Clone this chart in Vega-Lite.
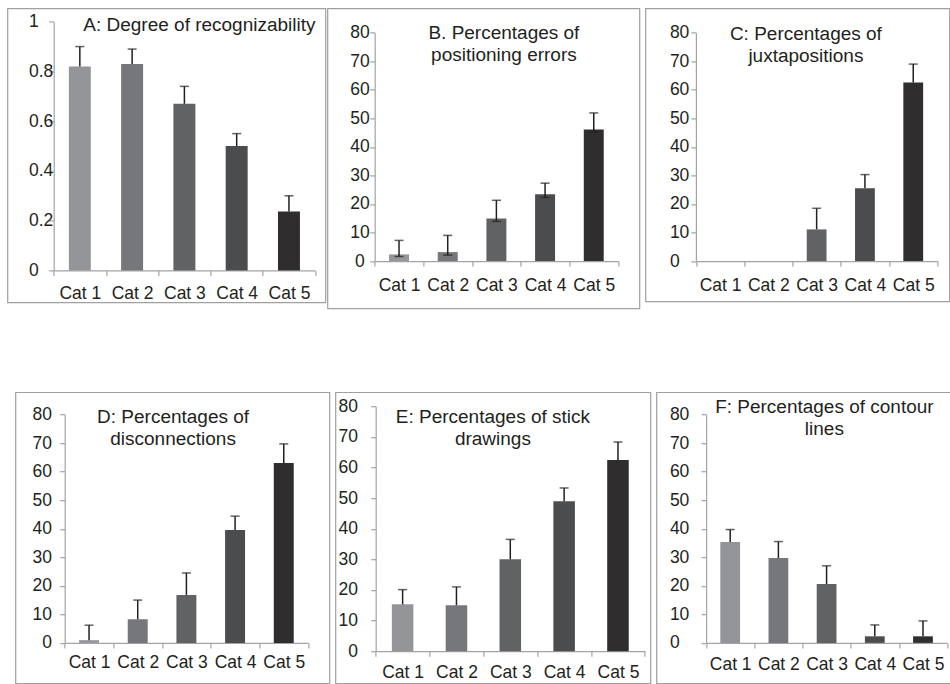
{
  "$schema": "https://vega.github.io/schema/vega-lite/v6.json",
  "padding": {"left": 6.4, "top": 7.4, "right": 0, "bottom": 0},
  "background": "white",
  "datasets": {
    "d": [
      {"panel": "A", "cat": "Cat 1", "value": 0.82, "lo": 0.82, "hi": 0.90},
      {"panel": "A", "cat": "Cat 2", "value": 0.83, "lo": 0.83, "hi": 0.89},
      {"panel": "A", "cat": "Cat 3", "value": 0.67, "lo": 0.67, "hi": 0.74},
      {"panel": "A", "cat": "Cat 4", "value": 0.50, "lo": 0.50, "hi": 0.55},
      {"panel": "A", "cat": "Cat 5", "value": 0.237, "lo": 0.237, "hi": 0.30},
      {"panel": "B", "cat": "Cat 1", "value": 2.35, "lo": 1.6, "hi": 7.25},
      {"panel": "B", "cat": "Cat 2", "value": 3.15, "lo": 2.1, "hi": 9.0},
      {"panel": "B", "cat": "Cat 3", "value": 14.95, "lo": 13.9, "hi": 21.3},
      {"panel": "B", "cat": "Cat 4", "value": 23.4, "lo": 22.3, "hi": 27.3},
      {"panel": "B", "cat": "Cat 5", "value": 46.1, "lo": 45.2, "hi": 51.9},
      {"panel": "C", "cat": "Cat 3", "value": 11.1, "lo": 11.1, "hi": 18.5},
      {"panel": "C", "cat": "Cat 4", "value": 25.5, "lo": 25.5, "hi": 30.3},
      {"panel": "C", "cat": "Cat 5", "value": 62.6, "lo": 62.6, "hi": 69.0},
      {"panel": "D", "cat": "Cat 1", "value": 0.95, "lo": 0.95, "hi": 6.2},
      {"panel": "D", "cat": "Cat 2", "value": 8.3, "lo": 8.3, "hi": 15.0},
      {"panel": "D", "cat": "Cat 3", "value": 16.8, "lo": 16.8, "hi": 24.5},
      {"panel": "D", "cat": "Cat 4", "value": 39.5, "lo": 39.5, "hi": 44.4},
      {"panel": "D", "cat": "Cat 5", "value": 63.0, "lo": 63.0, "hi": 69.7},
      {"panel": "E", "cat": "Cat 1", "value": 15.3, "lo": 15.3, "hi": 20.1},
      {"panel": "E", "cat": "Cat 2", "value": 15.0, "lo": 15.0, "hi": 21.0},
      {"panel": "E", "cat": "Cat 3", "value": 30.0, "lo": 30.0, "hi": 36.5},
      {"panel": "E", "cat": "Cat 4", "value": 49.0, "lo": 49.0, "hi": 53.3},
      {"panel": "E", "cat": "Cat 5", "value": 62.4, "lo": 62.4, "hi": 68.3},
      {"panel": "F", "cat": "Cat 1", "value": 35.3, "lo": 35.3, "hi": 39.7},
      {"panel": "F", "cat": "Cat 2", "value": 29.7, "lo": 29.7, "hi": 35.5},
      {"panel": "F", "cat": "Cat 3", "value": 20.6, "lo": 20.6, "hi": 27.0},
      {"panel": "F", "cat": "Cat 4", "value": 2.3, "lo": 2.3, "hi": 6.3},
      {"panel": "F", "cat": "Cat 5", "value": 2.3, "lo": 2.3, "hi": 7.7}
    ]
  },
  "data": {"name": "d"},
  "vconcat": [
    {
      "spacing": 0,
      "hconcat": [
        {
          "width": 318, "height": 294,
          "title": {"text": "A: Degree of recognizability", "offset": -26.8, "dx": 33},
          "transform": [{"filter": "datum.panel == 'A'"}],
          "encoding": {
            "x": {"field": "cat", "type": "nominal", "title": null,
              "scale": {"domain": ["Cat 1", "Cat 2", "Cat 3", "Cat 4", "Cat 5"], "range": [46.3, 307.7], "paddingInner": 0, "paddingOuter": 0},
              "axis": {"offset": -32, "labelPadding": 18}},
            "y": {"field": "value", "type": "quantitative", "title": null,
              "scale": {"domain": [0, 1], "range": [262, 13.3], "nice": false, "zero": true},
              "axis": {"offset": -46.3, "values": [0, 0.2, 0.4, 0.6, 0.8, 1], "format": "~g", "labelAlign": "left", "labelPadding": 20.3}}
          },
          "layer": [
            {"mark": {"type": "bar", "width": {"band": 0.42}},
             "encoding": {"color": {"field": "cat", "type": "nominal", "legend": null,
               "scale": {"domain": ["Cat 1", "Cat 2", "Cat 3", "Cat 4", "Cat 5"], "range": ["#939598", "#76777a", "#616264", "#4b4c4e", "#2f2d2e"]}}}},
            {"mark": {"type": "rule", "color": "#231f20", "strokeWidth": 1.5},
             "encoding": {"y": {"field": "lo", "type": "quantitative", "title": null}, "y2": {"field": "hi"}}},
            {"mark": {"type": "tick", "color": "#231f20", "thickness": 1.5, "size": 9},
             "encoding": {"y": {"field": "hi", "type": "quantitative", "title": null}}}
          ]
        },
        {
          "spacing": 4,
          "hconcat": [
            {
              "width": 312, "height": 300,
              "title": {"text": ["B. Percentages of", "positioning errors"], "offset": -56.5, "dx": 20.5},
              "transform": [{"filter": "datum.panel == 'B'"}],
              "encoding": {
                "x": {"field": "cat", "type": "nominal", "title": null,
                  "scale": {"domain": ["Cat 1", "Cat 2", "Cat 3", "Cat 4", "Cat 5"], "range": [47.3, 290.7], "paddingInner": 0, "paddingOuter": 0},
                  "axis": {"offset": -47.3, "labelPadding": 19.3}},
                "y": {"field": "value", "type": "quantitative", "title": null,
                  "scale": {"domain": [0, 80], "range": [252.7, 24.3], "nice": false, "zero": true},
                  "axis": {"offset": -47.3, "values": [0, 10, 20, 30, 40, 50, 60, 70, 80], "labelAlign": "center", "labelPadding": 10.3}}
              },
              "layer": [
                {"mark": {"type": "bar", "width": {"band": 0.41}},
                 "encoding": {"color": {"field": "cat", "type": "nominal", "legend": null,
                   "scale": {"domain": ["Cat 1", "Cat 2", "Cat 3", "Cat 4", "Cat 5"], "range": ["#939598", "#76777a", "#616264", "#4b4c4e", "#2f2d2e"]}}}},
                {"mark": {"type": "rule", "color": "#231f20", "strokeWidth": 1.5},
                 "encoding": {"y": {"field": "lo", "type": "quantitative", "title": null}, "y2": {"field": "hi"}}},
                {"mark": {"type": "tick", "color": "#231f20", "thickness": 1.5, "size": 9},
                 "encoding": {"y": {"field": "hi", "type": "quantitative", "title": null}}},
                {"mark": {"type": "tick", "color": "#231f20", "thickness": 1.5, "size": 9},
                 "encoding": {"y": {"field": "lo", "type": "quantitative", "title": null}}}
              ]
            },
            {
              "width": 304, "height": 293,
              "title": {"text": ["C: Percentages of", "juxtapositions"], "offset": -57.2, "dx": 8.5},
              "transform": [{"filter": "datum.panel == 'C'"}],
              "encoding": {
                "x": {"field": "cat", "type": "nominal", "title": null,
                  "scale": {"domain": ["Cat 1", "Cat 2", "Cat 3", "Cat 4", "Cat 5"], "range": [50.5, 292], "paddingInner": 0, "paddingOuter": 0},
                  "axis": {"offset": -40.3, "labelPadding": 19.3}},
                "y": {"field": "value", "type": "quantitative", "title": null,
                  "scale": {"domain": [0, 80], "range": [252.7, 24.3], "nice": false, "zero": true},
                  "axis": {"offset": -50.5, "values": [0, 10, 20, 30, 40, 50, 60, 70, 80], "labelAlign": "left", "labelPadding": 21.5}}
              },
              "layer": [
                {"mark": {"type": "bar", "width": {"band": 0.41}},
                 "encoding": {"color": {"field": "cat", "type": "nominal", "legend": null,
                   "scale": {"domain": ["Cat 1", "Cat 2", "Cat 3", "Cat 4", "Cat 5"], "range": ["#939598", "#76777a", "#616264", "#4b4c4e", "#2f2d2e"]}}}},
                {"mark": {"type": "rule", "color": "#231f20", "strokeWidth": 1.5},
                 "encoding": {"y": {"field": "lo", "type": "quantitative", "title": null}, "y2": {"field": "hi"}}},
                {"mark": {"type": "tick", "color": "#231f20", "thickness": 1.5, "size": 9},
                 "encoding": {"y": {"field": "hi", "type": "quantitative", "title": null}}}
              ]
            }
          ]
        }
      ]
    },
    {
      "spacing": 4,
      "hconcat": [
        {
          "width": 3, "height": 291,
          "data": {"values": [{"a": 1}]},
          "view": {"stroke": null, "fill": "#ffffff"},
          "mark": {"type": "point", "opacity": 0, "size": 0},
          "encoding": {}
        },
        {
          "width": 314, "height": 291,
          "title": {"text": ["D: Percentages of", "disconnections"], "offset": -56.8, "dx": 0.7},
          "transform": [{"filter": "datum.panel == 'D'"}],
          "encoding": {
            "x": {"field": "cat", "type": "nominal", "title": null,
              "scale": {"domain": ["Cat 1", "Cat 2", "Cat 3", "Cat 4", "Cat 5"], "range": [49.3, 292.7], "paddingInner": 0, "paddingOuter": 0},
              "axis": {"offset": -40.3, "labelPadding": 15}},
            "y": {"field": "value", "type": "quantitative", "title": null,
              "scale": {"domain": [0, 80], "range": [250.7, 22.3], "nice": false, "zero": true},
              "axis": {"offset": -49.3, "values": [0, 10, 20, 30, 40, 50, 60, 70, 80], "labelPadding": 8.3}}
          },
          "layer": [
            {"mark": {"type": "bar", "width": {"band": 0.41}},
             "encoding": {"color": {"field": "cat", "type": "nominal", "legend": null,
               "scale": {"domain": ["Cat 1", "Cat 2", "Cat 3", "Cat 4", "Cat 5"], "range": ["#939598", "#76777a", "#616264", "#4b4c4e", "#2f2d2e"]}}}},
            {"mark": {"type": "rule", "color": "#231f20", "strokeWidth": 1.5},
             "encoding": {"y": {"field": "lo", "type": "quantitative", "title": null}, "y2": {"field": "hi"}}},
            {"mark": {"type": "tick", "color": "#231f20", "thickness": 1.5, "size": 9},
             "encoding": {"y": {"field": "hi", "type": "quantitative", "title": null}}}
          ]
        },
        {
          "width": 315, "height": 291,
          "title": {"text": ["E: Percentages of stick", "drawings"], "offset": -56.8, "dx": 0},
          "transform": [{"filter": "datum.panel == 'E'"}],
          "encoding": {
            "x": {"field": "cat", "type": "nominal", "title": null,
              "scale": {"domain": ["Cat 1", "Cat 2", "Cat 3", "Cat 4", "Cat 5"], "range": [40.3, 309.5], "paddingInner": 0, "paddingOuter": 0},
              "axis": {"offset": -32, "labelPadding": 16.7}},
            "y": {"field": "value", "type": "quantitative", "title": null,
              "scale": {"domain": [0, 80], "range": [259, 14], "nice": false, "zero": true},
              "axis": {"offset": -40.3, "values": [0, 10, 20, 30, 40, 50, 60, 70, 80], "labelPadding": 13.3}}
          },
          "layer": [
            {"mark": {"type": "bar", "width": {"band": 0.4}},
             "encoding": {"color": {"field": "cat", "type": "nominal", "legend": null,
               "scale": {"domain": ["Cat 1", "Cat 2", "Cat 3", "Cat 4", "Cat 5"], "range": ["#939598", "#76777a", "#616264", "#4b4c4e", "#2f2d2e"]}}}},
            {"mark": {"type": "rule", "color": "#231f20", "strokeWidth": 1.5},
             "encoding": {"y": {"field": "lo", "type": "quantitative", "title": null}, "y2": {"field": "hi"}}},
            {"mark": {"type": "tick", "color": "#231f20", "thickness": 1.5, "size": 9},
             "encoding": {"y": {"field": "hi", "type": "quantitative", "title": null}}}
          ]
        },
        {
          "width": 294, "height": 291,
          "title": {"text": ["F: Percentages of contour", "lines"], "offset": -46.8, "dx": 21},
          "transform": [{"filter": "datum.panel == 'F'"}],
          "encoding": {
            "x": {"field": "cat", "type": "nominal", "title": null,
              "scale": {"domain": ["Cat 1", "Cat 2", "Cat 3", "Cat 4", "Cat 5"], "range": [49.7, 290.7], "paddingInner": 0, "paddingOuter": 0},
              "axis": {"offset": -40.3, "labelPadding": 16.6}},
            "y": {"field": "value", "type": "quantitative", "title": null,
              "scale": {"domain": [0, 80], "range": [250.7, 22.3], "nice": false, "zero": true},
              "axis": {"offset": -49.7, "values": [0, 10, 20, 30, 40, 50, 60, 70, 80], "labelAlign": "left", "labelPadding": 31.7}}
          },
          "layer": [
            {"mark": {"type": "bar", "width": {"band": 0.41}},
             "encoding": {"color": {"field": "cat", "type": "nominal", "legend": null,
               "scale": {"domain": ["Cat 1", "Cat 2", "Cat 3", "Cat 4", "Cat 5"], "range": ["#939598", "#76777a", "#616264", "#4b4c4e", "#2f2d2e"]}}}},
            {"mark": {"type": "rule", "color": "#231f20", "strokeWidth": 1.5},
             "encoding": {"y": {"field": "lo", "type": "quantitative", "title": null}, "y2": {"field": "hi"}}},
            {"mark": {"type": "tick", "color": "#231f20", "thickness": 1.5, "size": 9},
             "encoding": {"y": {"field": "hi", "type": "quantitative", "title": null}}}
          ]
        }
      ]
    }
  ],
  "spacing": 81.8,
  "config": {
    "view": {"stroke": "#a0a0a0", "strokeWidth": 1.2},
    "title": {"font": "Liberation Sans", "fontSize": 19, "fontWeight": "normal", "color": "#231f20", "anchor": "middle", "frame": "group", "baseline": "alphabetic", "lineHeight": 22},
    "axis": {"domainColor": "#a3a3a3", "tickColor": "#a3a3a3", "domainWidth": 1.2, "tickWidth": 1.2, "tickSize": 5, "grid": false, "labelFont": "Liberation Sans", "labelFontSize": 17.5, "labelColor": "#231f20", "labelOverlap": false},
    "axisX": {"tickBand": "extent", "labelAngle": 0, "labelBaseline": "middle"},
    "axisY": {"labelBaseline": "middle"}
  }
}
